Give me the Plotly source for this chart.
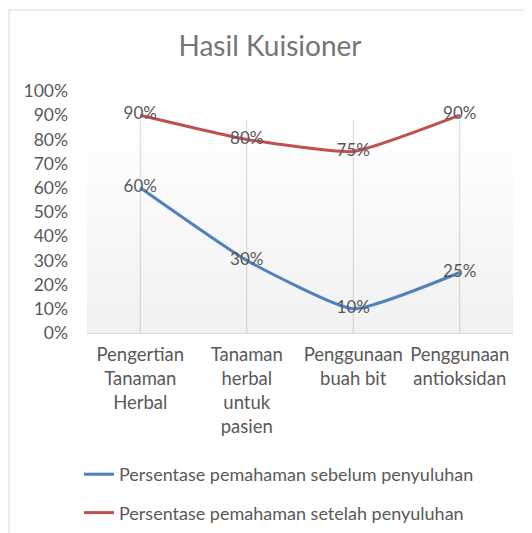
import plotly.graph_objects as go

categories = ["Pengertian<br>Tanaman<br>Herbal", "Tanaman<br>herbal<br>untuk<br>pasien",
              "Penggunaan<br>buah bit", "Penggunaan<br>antioksidan"]
sebelum = [0.60, 0.30, 0.10, 0.25]
setelah = [0.90, 0.80, 0.75, 0.90]
series_names = ["Persentase pemahaman sebelum penyuluhan", "Persentase pemahaman setelah penyuluhan"]
series_colors = ["#4F81BD", "#C0504D"]
y_ticks = [i / 10 for i in range(11)]

FONT = "Lato"
TXT = "#595959"

# page body adds an 8px offset, so the figure is 8px smaller
W, H = 524, 525
L, R, T, B = 79, 19, 83, 200
PW, PH = W - L - R, H - T - B

fig = go.Figure()

# gradient plot background (base linear axis x, drawn first)
fig.add_trace(go.Scatter(
    x=[0, 1, 1, 0, 0], y=[0, 0, 0.88, 0.88, 0], xaxis="x", yaxis="y",
    mode="lines", line=dict(width=0), fill="toself",
    fillgradient=dict(type="vertical",
                      colorscale=[[0, "rgba(0,0,0,0.055)"], [1, "rgba(0,0,0,0)"]]),
    hoverinfo="skip", showlegend=False))

for name, vals, col in zip(series_names, [sebelum, setelah], series_colors):
    fig.add_trace(go.Scatter(
        x=categories, y=vals, name=name, mode="lines+text", xaxis="x2", yaxis="y",
        line=dict(color=col, width=3, shape="spline", smoothing=0.45),
        text=[f"{round(v*100)}%" for v in vals], textposition="middle center",
        textfont=dict(family=FONT, size=17, color=TXT),
        legendgroup=name))

for i, c in enumerate(categories):
    fig.add_shape(type="line", xref="x2", yref="y", x0=i, x1=i, y0=0, y1=0.88,
                  line=dict(color="#d9d9d9", width=1), layer="below")

# chart frame
fig.add_shape(type="rect", xref="paper", yref="paper",
              x0=(1 - L) / PW, x1=1.3,
              y0=-1.0, y1=(H - B - 2) / PH,
              line=dict(color="#d9d9d9", width=1), layer="below")

fig.update_layout(
    width=W, height=H,
    margin=dict(l=L, r=R, t=T, b=B, autoexpand=False),
    paper_bgcolor="white", plot_bgcolor="rgba(0,0,0,0)",
    title=dict(text="Hasil Kuisioner", x=0.5, xref="container", y=1 - 38 / H, yref="container",
               xanchor="center", yanchor="middle",
               font=dict(family=FONT, size=28, color="#757575")),
    xaxis=dict(range=[0, 1], visible=False, domain=[0, 1], anchor="y", fixedrange=True),
    xaxis2=dict(type="category", categoryorder="array", categoryarray=categories,
                range=[-0.5, 3.5], showgrid=False, showline=True, linecolor="#d9d9d9",
                ticks="", tickfont=dict(family=FONT, size=18.5, color=TXT), ticklabelstandoff=5,
                tickangle=0, overlaying="x", anchor="y", side="bottom"),
    yaxis=dict(range=[0, 1], tickvals=y_ticks, tickformat=".0%", showgrid=False,
               zeroline=False, showline=False, ticks="", domain=[0, 1], anchor="x",
               tickfont=dict(family=FONT, size=17.5, color=TXT), ticklabelstandoff=18),
    legend=dict(orientation="v", xref="container", yref="container",
                x=71 / W, y=1 - 448 / H, xanchor="left", yanchor="top",
                font=dict(family=FONT, size=18, color=TXT),
                tracegroupgap=12, bgcolor="rgba(0,0,0,0)"),
    showlegend=True,
)

fig.write_html("out.html")
